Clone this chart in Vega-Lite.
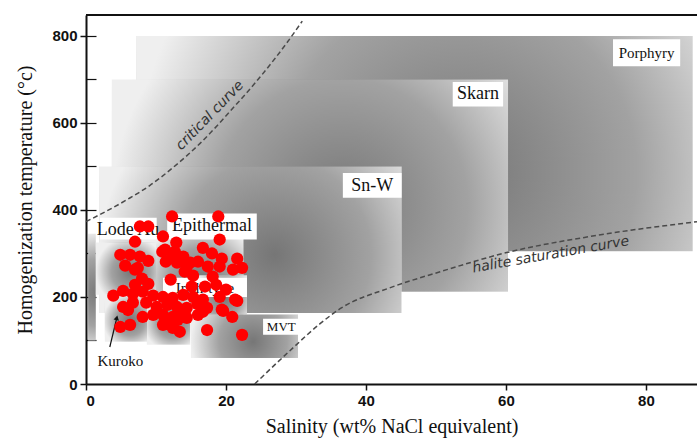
{
  "$schema": "https://vega.github.io/schema/vega-lite/v6.json",
  "width": 611,
  "height": 369,
  "autosize": {"type": "none"},
  "padding": {"left": 86, "top": 15, "right": 0, "bottom": 61},
  "background": "white",
  "config": {
    "view": {"stroke": null},
    "axis": {"grid": false, "domainColor": "#111", "tickColor": "#111", "labelColor": "#111", "titleColor": "#111"}
  },
  "datasets": {
    "fields": [
      {"name": "Porphyry", "x1": 7.2, "x2": 86.7, "y1": 305, "y2": 800},
      {"name": "Skarn", "x1": 3.7, "x2": 60.3, "y1": 212, "y2": 700},
      {"name": "Sn-W", "x1": 1.9, "x2": 45.1, "y1": 163, "y2": 500},
      {"name": "Epithermal", "x1": 8, "x2": 22.5, "y1": 150, "y2": 350},
      {"name": "Lode Au outer", "x1": 0.3, "x2": 1.4, "y1": 100, "y2": 345},
      {"name": "Lode Au", "x1": 1.4, "x2": 10, "y1": 205, "y2": 325},
      {"name": "Kuroko", "x1": 2.7, "x2": 8.9, "y1": 97, "y2": 205},
      {"name": "Sedex", "x1": 8.7, "x2": 14.9, "y1": 90, "y2": 205},
      {"name": "Irish-type", "x1": 15, "x2": 23, "y1": 160, "y2": 250},
      {"name": "MVT", "x1": 15, "x2": 30.3, "y1": 60, "y2": 160}
    ],
    "labels": [
      {"name": "Porphyry", "x": 80.1, "y": 761, "bx1": 75.3, "bx2": 84.9, "by1": 730, "by2": 792},
      {"name": "Skarn", "x": 56, "y": 666, "bx1": 52.4, "bx2": 59.6, "by1": 638, "by2": 694},
      {"name": "Sn-W", "x": 40.9, "y": 456, "bx1": 36.7, "bx2": 45.1, "by1": 428, "by2": 485},
      {"name": "Lode Au", "x": 6, "y": 355, "bx1": 2, "bx2": 10.1, "by1": 332, "by2": 382},
      {"name": "Epithermal", "x": 18, "y": 364, "bx1": 11.6, "bx2": 24.4, "by1": 332, "by2": 392},
      {"name": "Irish-type", "x": 17, "y": 221, "bx1": 11, "bx2": 23, "by1": 200, "by2": 244},
      {"name": "MVT", "x": 27.9, "y": 131, "bx1": 25.3, "bx2": 30.6, "by1": 113, "by2": 150}
    ],
    "kuroko": [{"name": "Kuroko", "x": 4.9, "y": 53}],
    "arrow": [{"x": 3.4, "y": 85, "x2": 4.4, "y2": 152}],
    "curves": [
      {"curve": "critical", "x": 0, "y": 373},
      {"curve": "critical", "x": 5.9, "y": 424},
      {"curve": "critical", "x": 9.1, "y": 456},
      {"curve": "critical", "x": 12.4, "y": 497},
      {"curve": "critical", "x": 16.3, "y": 553},
      {"curve": "critical", "x": 21, "y": 634},
      {"curve": "critical", "x": 24.9, "y": 706},
      {"curve": "critical", "x": 28.7, "y": 784},
      {"curve": "critical", "x": 30.9, "y": 834},
      {"curve": "halite", "x": 24.1, "y": 0},
      {"curve": "halite", "x": 29.1, "y": 76},
      {"curve": "halite", "x": 33.4, "y": 138},
      {"curve": "halite", "x": 36.3, "y": 173},
      {"curve": "halite", "x": 43.4, "y": 221},
      {"curve": "halite", "x": 50.6, "y": 258},
      {"curve": "halite", "x": 60.1, "y": 302},
      {"curve": "halite", "x": 72, "y": 339},
      {"curve": "halite", "x": 87.3, "y": 373}
    ],
    "curveLabels": [
      {"text": "critical curve", "x": 17.7, "y": 617},
      {"text": "halite saturation curve", "x": 66.4, "y": 297}
    ],
    "inclusions": [
      {"x": 12.3, "y": 385}, {"x": 18.9, "y": 385}, {"x": 7.7, "y": 362}, {"x": 8.9, "y": 362},
      {"x": 7.0, "y": 327}, {"x": 11.0, "y": 339}, {"x": 12.9, "y": 325}, {"x": 19.1, "y": 332},
      {"x": 4.9, "y": 297}, {"x": 6.3, "y": 297}, {"x": 7.7, "y": 293}, {"x": 8.9, "y": 283},
      {"x": 11.3, "y": 309}, {"x": 12.7, "y": 304}, {"x": 13.9, "y": 293}, {"x": 14.9, "y": 279},
      {"x": 11.4, "y": 281}, {"x": 13.0, "y": 279}, {"x": 14.4, "y": 270}, {"x": 16.7, "y": 313},
      {"x": 18.0, "y": 300}, {"x": 19.4, "y": 288}, {"x": 21.6, "y": 288}, {"x": 21.0, "y": 263},
      {"x": 19.1, "y": 270}, {"x": 7.4, "y": 267}, {"x": 8.0, "y": 242}, {"x": 8.9, "y": 230},
      {"x": 12.1, "y": 240}, {"x": 15.3, "y": 249}, {"x": 15.1, "y": 224}, {"x": 17.0, "y": 224},
      {"x": 18.6, "y": 228}, {"x": 20.0, "y": 217}, {"x": 18.1, "y": 247}, {"x": 3.9, "y": 203},
      {"x": 5.3, "y": 214}, {"x": 6.7, "y": 207}, {"x": 8.1, "y": 212}, {"x": 9.6, "y": 203},
      {"x": 11.0, "y": 200}, {"x": 12.4, "y": 198}, {"x": 13.9, "y": 205}, {"x": 15.3, "y": 200},
      {"x": 16.7, "y": 194}, {"x": 19.1, "y": 200}, {"x": 21.6, "y": 191}, {"x": 5.3, "y": 177},
      {"x": 6.7, "y": 187}, {"x": 8.6, "y": 187}, {"x": 10.1, "y": 177}, {"x": 11.6, "y": 182},
      {"x": 13.0, "y": 177}, {"x": 14.4, "y": 175}, {"x": 15.9, "y": 184}, {"x": 17.3, "y": 175},
      {"x": 19.6, "y": 168}, {"x": 20.9, "y": 154}, {"x": 4.9, "y": 131}, {"x": 6.3, "y": 136},
      {"x": 8.1, "y": 154}, {"x": 9.6, "y": 159}, {"x": 11.0, "y": 159}, {"x": 12.4, "y": 154},
      {"x": 13.6, "y": 164}, {"x": 14.4, "y": 152}, {"x": 16.0, "y": 159}, {"x": 11.0, "y": 136},
      {"x": 12.4, "y": 129}, {"x": 13.4, "y": 120}, {"x": 17.3, "y": 124}, {"x": 22.3, "y": 113},
      {"x": 7.0, "y": 228}, {"x": 6.0, "y": 170}, {"x": 16.0, "y": 281}, {"x": 17.4, "y": 270},
      {"x": 22.3, "y": 267}, {"x": 14.1, "y": 258}, {"x": 5.6, "y": 272}, {"x": 7.0, "y": 263},
      {"x": 10.9, "y": 304}, {"x": 12.3, "y": 290}, {"x": 13.7, "y": 281}, {"x": 11.7, "y": 143},
      {"x": 21.3, "y": 194}, {"x": 16.7, "y": 166}, {"x": 19.4, "y": 171}, {"x": 13.1, "y": 147}
    ]
  },
  "resolve": {"axis": {"y": "independent"}},
  "layer": [
    {
      "data": {"name": "fields"},
      "mark": {
        "type": "rect",
        "fill": {
          "gradient": "radial",
          "x1": 0.58, "y1": 0.55, "r1": 0,
          "x2": 0.58, "y2": 0.55, "r2": 0.58,
          "stops": [
            {"offset": 0, "color": "#767676"},
            {"offset": 0.55, "color": "#a2a2a2"},
            {"offset": 1, "color": "#efefef"}
          ]
        }
      },
      "encoding": {
        "x": {
          "field": "x1", "type": "quantitative",
          "scale": {"domain": [0, 87.3], "nice": false, "zero": false},
          "title": "Salinity (wt% NaCl equivalent)",
          "axis": {
            "values": [0, 20, 40, 60, 80],
            "domainWidth": 2, "tickSize": 6, "tickWidth": 1.5,
            "labelFont": "Liberation Sans", "labelFontSize": 15, "labelFontWeight": "bold", "labelPadding": 3,
            "titleFont": "Liberation Serif", "titleFontSize": 20, "titleFontWeight": "normal", "titlePadding": 8
          }
        },
        "x2": {"field": "x2"},
        "y": {
          "field": "y1", "type": "quantitative",
          "scale": {"domain": [0, 848], "nice": false, "zero": false},
          "axis": {
            "orient": "left",
            "values": [0, 200, 400, 600, 800],
            "title": "Homogenization temperature (°c)",
            "domainWidth": 2, "tickSize": 6, "tickWidth": 1.5,
            "labelFont": "Liberation Sans", "labelFontSize": 15, "labelFontWeight": "bold", "labelPadding": 3,
            "titleFont": "Liberation Serif", "titleFontSize": 20, "titleFontWeight": "normal", "titlePadding": 16
          }
        },
        "y2": {"field": "y2"}
      }
    },
    {
      "data": {"name": "labels"},
      "mark": {"type": "rect", "fill": "white"},
      "encoding": {
        "x": {"field": "bx1", "type": "quantitative", "scale": {"domain": [0, 87.3], "nice": false, "zero": false}, "title": "Salinity (wt% NaCl equivalent)"},
        "x2": {"field": "bx2"},
        "y": {"field": "by1", "type": "quantitative", "scale": {"domain": [0, 848], "nice": false, "zero": false}, "axis": null},
        "y2": {"field": "by2"}
      }
    },
    {
      "data": {"name": "curves"},
      "mark": {"type": "line", "color": "#4a4a4a", "strokeWidth": 1.5, "strokeDash": [5, 3], "interpolate": "monotone"},
      "encoding": {
        "x": {"field": "x", "type": "quantitative", "scale": {"domain": [0, 87.3], "nice": false, "zero": false}, "title": "Salinity (wt% NaCl equivalent)"},
        "y": {"field": "y", "type": "quantitative", "scale": {"domain": [0, 848], "nice": false, "zero": false}, "axis": null},
        "detail": {"field": "curve"}
      }
    },
    {
      "data": {"name": "curveLabels"},
      "transform": [{"filter": "datum.text == 'critical curve'"}],
      "mark": {"type": "text", "font": "DejaVu Sans", "fontStyle": "italic", "fontSize": 14, "color": "#333", "angle": 314},
      "encoding": {
        "x": {"field": "x", "type": "quantitative", "scale": {"domain": [0, 87.3], "nice": false, "zero": false}, "title": "Salinity (wt% NaCl equivalent)"},
        "y": {"field": "y", "type": "quantitative", "scale": {"domain": [0, 848], "nice": false, "zero": false}, "axis": null},
        "text": {"field": "text"}
      }
    },
    {
      "data": {"name": "curveLabels"},
      "transform": [{"filter": "datum.text == 'halite saturation curve'"}],
      "mark": {"type": "text", "font": "DejaVu Sans", "fontStyle": "italic", "fontSize": 14, "color": "#333", "angle": 350},
      "encoding": {
        "x": {"field": "x", "type": "quantitative", "scale": {"domain": [0, 87.3], "nice": false, "zero": false}, "title": "Salinity (wt% NaCl equivalent)"},
        "y": {"field": "y", "type": "quantitative", "scale": {"domain": [0, 848], "nice": false, "zero": false}, "axis": null},
        "text": {"field": "text"}
      }
    },
    {
      "data": {"name": "labels"},
      "transform": [{"filter": {"field": "name", "oneOf": ["Skarn", "Sn-W", "Epithermal", "Lode Au"]}}],
      "mark": {"type": "text", "font": "Liberation Serif", "fontSize": 18, "color": "#111"},
      "encoding": {
        "x": {"field": "x", "type": "quantitative", "scale": {"domain": [0, 87.3], "nice": false, "zero": false}, "title": "Salinity (wt% NaCl equivalent)"},
        "y": {"field": "y", "type": "quantitative", "scale": {"domain": [0, 848], "nice": false, "zero": false}, "axis": null},
        "text": {"field": "name"}
      }
    },
    {
      "data": {"name": "labels"},
      "transform": [{"filter": {"field": "name", "oneOf": ["Porphyry", "Irish-type"]}}],
      "mark": {"type": "text", "font": "Liberation Serif", "fontSize": 15, "color": "#111"},
      "encoding": {
        "x": {"field": "x", "type": "quantitative", "scale": {"domain": [0, 87.3], "nice": false, "zero": false}, "title": "Salinity (wt% NaCl equivalent)"},
        "y": {"field": "y", "type": "quantitative", "scale": {"domain": [0, 848], "nice": false, "zero": false}, "axis": null},
        "text": {"field": "name"}
      }
    },
    {
      "data": {"name": "labels"},
      "transform": [{"filter": "datum.name == 'MVT'"}],
      "mark": {"type": "text", "font": "Liberation Serif", "fontSize": 13, "color": "#111"},
      "encoding": {
        "x": {"field": "x", "type": "quantitative", "scale": {"domain": [0, 87.3], "nice": false, "zero": false}, "title": "Salinity (wt% NaCl equivalent)"},
        "y": {"field": "y", "type": "quantitative", "scale": {"domain": [0, 848], "nice": false, "zero": false}, "axis": null},
        "text": {"field": "name"}
      }
    },
    {
      "data": {"name": "kuroko"},
      "mark": {"type": "text", "font": "Liberation Serif", "fontSize": 15, "color": "#111"},
      "encoding": {
        "x": {"field": "x", "type": "quantitative", "scale": {"domain": [0, 87.3], "nice": false, "zero": false}, "title": "Salinity (wt% NaCl equivalent)"},
        "y": {"field": "y", "type": "quantitative", "scale": {"domain": [0, 848], "nice": false, "zero": false}, "axis": null},
        "text": {"field": "name"}
      }
    },
    {
      "data": {"name": "arrow"},
      "mark": {"type": "rule", "color": "#111", "strokeWidth": 1.2},
      "encoding": {
        "x": {"field": "x", "type": "quantitative", "scale": {"domain": [0, 87.3], "nice": false, "zero": false}, "title": "Salinity (wt% NaCl equivalent)"},
        "y": {"field": "y", "type": "quantitative", "scale": {"domain": [0, 848], "nice": false, "zero": false}, "axis": null},
        "x2": {"field": "x2"},
        "y2": {"field": "y2"}
      }
    },
    {
      "data": {"name": "arrow"},
      "mark": {"type": "point", "shape": "triangle-up", "filled": true, "color": "#111", "size": 30, "angle": 13, "opacity": 1},
      "encoding": {
        "x": {"field": "x2", "type": "quantitative", "scale": {"domain": [0, 87.3], "nice": false, "zero": false}, "title": "Salinity (wt% NaCl equivalent)"},
        "y": {"field": "y2", "type": "quantitative", "scale": {"domain": [0, 848], "nice": false, "zero": false}, "axis": null}
      }
    },
    {
      "data": {"name": "inclusions"},
      "mark": {"type": "circle", "color": "#ff0000", "size": 150, "opacity": 1},
      "encoding": {
        "x": {"field": "x", "type": "quantitative", "scale": {"domain": [0, 87.3], "nice": false, "zero": false}, "title": "Salinity (wt% NaCl equivalent)"},
        "y": {"field": "y", "type": "quantitative", "scale": {"domain": [0, 848], "nice": false, "zero": false}, "axis": null}
      }
    },
    {
      "data": {"values": [{}]},
      "mark": {"type": "rule", "color": "#111", "strokeWidth": 2},
      "encoding": {
        "y": {
          "datum": 848, "type": "quantitative",
          "scale": {"domain": [0, 848], "nice": false, "zero": false},
          "axis": {"orient": "left", "values": [100, 200, 300, 400, 500, 600, 700, 800], "tickSize": -10, "tickWidth": 1.2, "labels": false, "domain": false, "title": null, "grid": false}
        }
      }
    }
  ]
}
